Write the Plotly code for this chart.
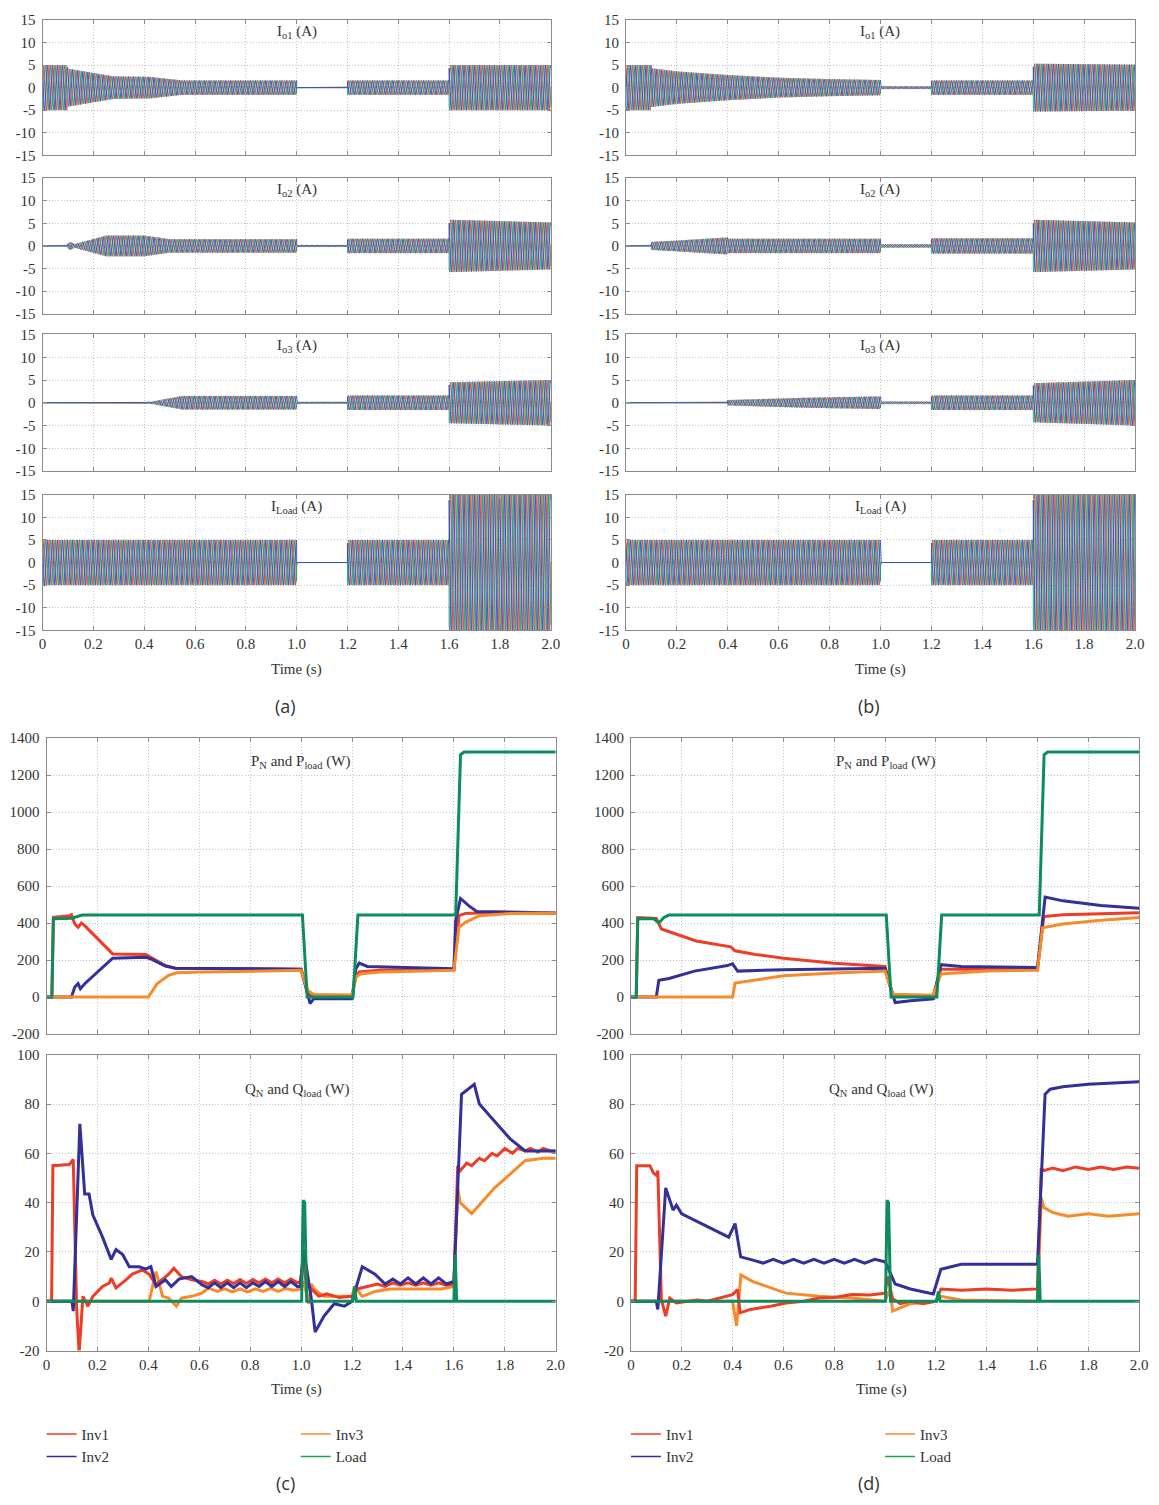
import numpy as np
import plotly.graph_objects as go

W, H = 1159, 1505
SERIF = "Liberation Serif"

# ---------------- tick labels ----------------
x_ticks = [0, 0.2, 0.4, 0.6, 0.8, 1.0, 1.2, 1.4, 1.6, 1.8, 2.0]
x_tick_text = ["0", "0.2", "0.4", "0.6", "0.8", "1.0", "1.2", "1.4", "1.6", "1.8", "2.0"]
cur_y_ticks = [-15, -10, -5, 0, 5, 10, 15]
cur_y_text = ["-15", "-10", "-5", "0", "5", "10", "15"]
p_y_ticks = [-200, 0, 200, 400, 600, 800, 1000, 1200, 1400]
p_y_text = ["-200", "0", "200", "400", "600", "800", "1000", "1200", "1400"]
q_y_ticks = [-20, 0, 20, 40, 60, 80, 100]
q_y_text = ["-20", "0", "20", "40", "60", "80", "100"]

# ---------------- current envelopes (peak amplitude, A) ----------------
a_io1_t = [0, 0.095, 0.1, 0.28, 0.42, 0.55, 1.0, 1.0, 1.2, 1.2, 1.6, 1.6, 2.0]
a_io1_a = [5.0, 5.0, 4.2, 2.5, 2.4, 1.6, 1.6, 0.0, 0.0, 1.6, 1.6, 5.0, 5.0]
a_io2_t = [0, 0.1, 0.1, 0.11, 0.125, 0.25, 0.4, 0.5, 1.0, 1.0, 1.2, 1.2, 1.6, 1.6, 2.0]
a_io2_a = [0.0, 0.0, 0.6, 0.9, 0.4, 2.3, 2.3, 1.5, 1.5, 0.2, 0.2, 1.6, 1.6, 5.8, 5.2]
a_io3_t = [0, 0.4, 0.55, 1.0, 1.0, 1.2, 1.2, 1.6, 1.6, 2.0]
a_io3_a = [0.0, 0.0, 1.5, 1.5, 0.2, 0.2, 1.6, 1.6, 4.5, 5.0]
a_iload_t = [0, 1.0, 1.0, 1.2, 1.2, 1.6, 1.6, 2.0]
a_iload_a = [5.0, 5.0, 0.0, 0.0, 5.0, 5.0, 16.0, 16.0]

b_io1_t = [0, 0.1, 0.1, 0.2, 0.4, 0.6, 0.8, 1.0, 1.0, 1.2, 1.2, 1.6, 1.6, 2.0]
b_io1_a = [5.0, 5.0, 4.3, 3.6, 2.8, 2.2, 1.9, 1.7, 0.35, 0.35, 1.6, 1.6, 5.3, 5.1]
b_io2_t = [0, 0.1, 0.1, 0.2, 0.4, 0.4, 1.0, 1.0, 1.2, 1.2, 1.6, 1.6, 2.0]
b_io2_a = [0.0, 0.0, 0.9, 1.2, 1.9, 1.6, 1.6, 0.4, 0.4, 1.7, 1.7, 5.8, 5.2]
b_io3_t = [0, 0.4, 0.4, 0.7, 1.0, 1.0, 1.2, 1.2, 1.6, 1.6, 2.0]
b_io3_a = [0.0, 0.0, 0.6, 1.1, 1.4, 0.3, 0.3, 1.6, 1.6, 4.3, 5.0]
b_iload_t = [0, 1.0, 1.0, 1.2, 1.2, 1.6, 1.6, 2.0]
b_iload_a = [5.0, 5.0, 0.0, 0.0, 5.0, 5.0, 16.0, 16.0]

# ---------------- active power (c) ----------------
c_p_inv1_t = [0, 0.021, 0.027, 0.092, 0.098, 0.111, 0.124, 0.137, 0.15, 0.26, 0.39, 0.41, 0.467, 0.506,
              1.0, 1.031, 1.2, 1.215, 1.228, 1.31, 1.6, 1.62, 1.645, 1.697, 2.0]
c_p_inv1_v = [0, 0, 431, 440, 445, 395, 377, 400, 386, 233, 230, 215, 170, 156,
              150, 9, 9, 108, 135, 144, 147, 440, 452, 454, 454]
c_p_inv2_t = [0, 0.098, 0.111, 0.124, 0.133, 0.15, 0.26, 0.39, 0.41, 0.467, 0.506, 1.0, 1.035, 1.05,
              1.2, 1.215, 1.228, 1.26, 1.6, 1.607, 1.626, 1.658, 1.69, 2.0]
c_p_inv2_v = [0, 0, 54, 72, 45, 72, 210, 215, 206, 167, 156, 150, -35, -9,
              -9, 153, 183, 165, 153, 413, 533, 494, 463, 454]
c_p_inv3_t = [0, 0.4, 0.434, 0.48, 0.51, 0.61, 1.0, 1.025, 1.05, 1.2, 1.215, 1.235, 1.31, 1.6, 1.62,
              1.645, 1.7, 1.826, 2.0]
c_p_inv3_v = [0, 0, 72, 117, 131, 135, 144, 36, 14, 9, 108, 126, 135, 144, 377, 404, 440, 452, 454]
c_p_load_t = [0, 0.021, 0.027, 0.1, 0.14, 1.005, 1.024, 1.204, 1.223, 1.607, 1.626, 1.64, 2.0]
c_p_load_v = [0, 0, 423, 426, 443, 443, 0, 0, 443, 443, 1310, 1325, 1325]

# ---------------- reactive power (c) ----------------
c_q_inv1_t = [0, 0.02, 0.025, 0.09, 0.105, 0.118, 0.128, 0.143, 0.163, 0.182, 0.22, 0.247, 0.254, 0.273,
              0.312, 0.337, 0.376, 0.403, 0.43, 0.48, 0.5, 0.53, 0.57, 0.61, 0.635, 0.66, 0.685, 0.71,
              0.735, 0.76, 0.785, 0.81, 0.835, 0.86, 0.885, 0.91, 0.935, 0.96, 0.985, 0.997, 1.008,
              1.02, 1.04, 1.07, 1.1, 1.15, 1.2, 1.22, 1.26, 1.3, 1.33, 1.36, 1.39, 1.42, 1.45, 1.48,
              1.51, 1.54, 1.57, 1.6, 1.615, 1.625, 1.65, 1.67, 1.7, 1.72, 1.75, 1.77, 1.8, 1.83,
              1.85, 1.88, 1.9, 1.93, 1.95, 1.98, 2.0]
c_q_inv1_v = [0, 0, 55, 55.5, 57.5, -2, -21, 2, -2, 2, 6, 7.4, 9.4, 5.4,
              8.7, 11, 12.7, 11, 6.7, 11, 13.4, 10, 8.7, 8, 7, 8.5, 7, 8.5,
              7.2, 8.8, 7.2, 8.8, 7.5, 9, 7.5, 9, 7.5, 9, 7.5, 8, 17,
              7, 5, 2, 3, 1.5, 2, 5, 6, 7, 6, 7.5, 6.5, 7.5, 6.5, 7.5,
              6.5, 7.5, 6.5, 7, 55, 53, 56, 55, 58, 57, 60, 59, 62, 60,
              62, 61, 62, 60.5, 62, 61, 61]
c_q_inv2_t = [0, 0.1, 0.105, 0.131, 0.15, 0.167, 0.182, 0.22, 0.254, 0.273, 0.299, 0.325, 0.364, 0.39,
              0.41, 0.43, 0.467, 0.49, 0.52, 0.57, 0.61, 0.635, 0.66, 0.685, 0.71, 0.735, 0.76, 0.785,
              0.81, 0.835, 0.86, 0.885, 0.91, 0.935, 0.96, 0.985, 0.997,
              1.01, 1.04, 1.055, 1.09, 1.13, 1.17, 1.2, 1.24, 1.29, 1.33, 1.36, 1.39, 1.42, 1.45,
              1.48, 1.51, 1.54, 1.57, 1.6,
              1.63, 1.68, 1.7, 1.75, 1.82, 1.88, 1.95, 2.0]
c_q_inv2_v = [0, 0, -4, 72, 43.5, 43.5, 35, 26, 17, 21, 19, 14, 14, 13,
              14, 6, 8.7, 6, 9, 10, 6.7, 5.5, 7.5, 5.5, 7.5, 5.5, 7.5, 5.5,
              7.5, 6, 8, 6, 8, 6, 8, 6, 6,
              21, 1, -12.5, -6, -1, -2, 0, 14, 11, 7, 9, 7, 9.5, 7,
              9.5, 7, 9.5, 7, 8,
              84, 88, 80, 74, 66, 61, 61, 61]
c_q_inv3_t = [0, 0.403, 0.43, 0.456, 0.48, 0.51, 0.53, 0.57, 0.61, 0.636, 0.67, 0.7, 0.73, 0.76, 0.79,
              0.82, 0.85, 0.88, 0.91, 0.94, 0.97, 1.0, 1.01,
              1.03, 1.04, 1.05, 1.09, 1.13, 1.17, 1.2, 1.21, 1.24, 1.29, 1.35, 1.45, 1.55, 1.6, 1.615,
              1.625, 1.67, 1.76, 1.88, 1.95, 2.0]
c_q_inv3_v = [0, 0, 12, 2, 1.3, -2, 1.3, 2, 3.3, 5.4, 4, 5, 3.8, 5, 3.8,
              5, 4, 5.2, 4, 5.2, 4.5, 5, 8,
              -1, 7, 5, 2, 2, 2, 2, 6, 2, 4, 5, 5, 5, 6, 46,
              40, 35.6, 46, 57, 58, 58]
c_q_load_t = [0, 1.002, 1.008, 1.014, 1.022, 1.203, 1.21, 1.217, 1.6, 1.605, 1.611, 2.0]
c_q_load_v = [0, 0, 41, 40, 0, 0, 6, 0, 0, 19, 0, 0]

# ---------------- active power (d) ----------------
d_p_inv1_t = [0, 0.021, 0.027, 0.1, 0.12, 0.18, 0.257, 0.393, 0.41, 0.49, 0.6, 0.8, 1.0, 1.03,
              1.19, 1.22, 1.6, 1.625, 1.7, 2.0]
d_p_inv1_v = [0, 0, 430, 425, 368, 341, 303, 271, 250, 230, 210, 182, 165, 5,
              10, 150, 150, 435, 445, 455]
d_p_inv2_t = [0, 0.1, 0.11, 0.15, 0.25, 0.38, 0.4, 0.42, 0.6, 0.8, 1.0, 1.04, 1.1, 1.19, 1.22, 1.3,
              1.6, 1.63, 1.7, 1.85, 2.0]
d_p_inv2_v = [0, 0, 90, 100, 140, 170, 180, 140, 148, 152, 155, -30, -20, -10, 175, 165,
              160, 540, 520, 495, 480]
d_p_inv3_t = [0, 0.4, 0.41, 0.5, 0.6, 0.8, 1.0, 1.03, 1.19, 1.22, 1.4, 1.6, 1.62, 1.7, 1.85, 2.0]
d_p_inv3_v = [0, 0, 75, 95, 115, 130, 140, 15, 10, 125, 140, 145, 375, 395, 415, 430]
d_p_load_t = [0, 0.021, 0.027, 0.09, 0.11, 0.13, 0.15, 1.005, 1.024, 1.204, 1.223, 1.607, 1.626, 1.64, 2.0]
d_p_load_v = [0, 0, 423, 423, 400, 430, 443, 443, 0, 0, 443, 443, 1310, 1325, 1325]

# ---------------- reactive power (d) ----------------
d_q_inv1_t = [0, 0.017, 0.023, 0.075, 0.089, 0.102, 0.106, 0.12, 0.137, 0.153, 0.179, 0.22, 0.26, 0.3,
              0.34, 0.38, 0.4, 0.42, 0.43, 0.47, 0.55, 0.61, 0.68, 0.74, 0.8, 0.87, 0.94, 1.0, 1.01,
              1.03, 1.06, 1.1, 1.15, 1.2, 1.22, 1.3, 1.4, 1.5, 1.6, 1.615, 1.625, 1.66, 1.7, 1.75,
              1.8, 1.85, 1.9, 1.95, 2.0]
d_q_inv1_v = [0, 0, 55, 55, 52, 51, 53, 0.7, -6, 1.3, -0.7, 0, 0.5, 0,
              1, 2, 2.7, 4.7, -4.7, -3.3, -2, -0.7, 0, 1.3, 1.5, 2.7, 2.5, 3.3, 10,
              1, -1, 0, -1, 0, 5, 4.5, 5, 4.5, 5, 54, 53, 54, 53, 54.5,
              53.5, 54.5, 53.5, 54.5, 54]
d_q_inv2_t = [0, 0.1, 0.106, 0.137, 0.166, 0.179, 0.2, 0.28, 0.345, 0.385, 0.41, 0.42, 0.432, 0.48,
              0.52, 0.56, 0.6, 0.64, 0.68, 0.72, 0.76, 0.8, 0.84, 0.88, 0.92, 0.96, 1.0, 1.01, 1.04,
              1.1, 1.15, 1.19, 1.22, 1.3, 1.4, 1.5, 1.6, 1.63, 1.65, 1.7, 1.8, 1.9, 2.0]
d_q_inv2_v = [0, 0, -3.3, 46, 37, 39, 35.5, 31.5, 28, 26, 31.5, 26, 18, 16.7,
              15.5, 17, 15.5, 17, 15.5, 17, 15.5, 17, 15.5, 17, 15.5, 17, 16, 14, 7,
              5, 4, 3, 13, 15, 15, 15, 15, 84, 86, 87, 88, 88.5, 89]
d_q_inv3_t = [0, 0.4, 0.416, 0.433, 0.48, 0.61, 0.74, 0.87, 1.0, 1.02, 1.03, 1.1, 1.2, 1.22, 1.3, 1.5,
              1.6, 1.615, 1.625, 1.66, 1.72, 1.8, 1.88, 2.0]
d_q_inv3_v = [0, 0, -10, 10.7, 8, 3.3, 2, 1.3, 0, 5, -4, -1, 0, 2, 0.5, 0,
              0, 42, 38, 36, 34.5, 35.5, 34.5, 35.5]
d_q_load_t = [0, 1.002, 1.008, 1.014, 1.022, 1.203, 1.21, 1.217, 1.6, 1.605, 1.611, 2.0]
d_q_load_v = [0, 0, 41, 40, 0, 0, 4, 0, 0, 19, 0, 0]

# ---------------- styles ----------------
COL_INV1 = "#ec3d27"
COL_INV2 = "#33309a"
COL_INV3 = "#f78b2c"
COL_LOAD = "#0f8c5c"
PHASE_COLORS = ["#f0472f", "#1aa860", "#3c48c8"]
FREQ = 50.0

fig = go.Figure()


def xd(x0, x1):
    return [x0 / W, x1 / W]


def yd(y0, y1):
    return [1 - y1 / H, 1 - y0 / H]


common = dict(showline=True, linecolor="#8a8a8a", linewidth=1, mirror="ticks", ticks="inside",
              ticklen=4, tickcolor="#8a8a8a", showgrid=True, gridcolor="#c4c4c4", griddash="1px,2px",
              gridwidth=1, zeroline=False,
              tickfont=dict(family=SERIF, size=15, color="#333333"))

cur_rows = [(12, 149), (172, 309), (330, 468), (492, 629)]
panels = {}
k = 1
for xr in [(39, 553), (629, 1144)]:
    for yr in cur_rows:
        panels[k] = (xr, yr, "cur")
        k += 1
panels[9] = ((43, 558), (738, 1037), "p")
panels[10] = ((43, 558), (1058, 1357), "q")
panels[11] = ((634, 1148), (738, 1037), "p")
panels[12] = ((634, 1148), (1058, 1357), "q")

bottom_axes = {4, 8, 10, 12}
layout_axes = {}
for i, (xr, yr, kind) in panels.items():
    xa = "xaxis" if i == 1 else f"xaxis{i}"
    ya = "yaxis" if i == 1 else f"yaxis{i}"
    layout_axes[xa] = dict(common, domain=xd(*xr), range=[0, 2], tickvals=x_ticks, ticktext=x_tick_text,
                           showticklabels=(i in bottom_axes), anchor=f"y{'' if i == 1 else i}")
    if kind == "cur":
        yrange, yt, ytt = [-15, 15], cur_y_ticks, cur_y_text
    elif kind == "p":
        yrange, yt, ytt = [-200, 1400], p_y_ticks, p_y_text
    else:
        yrange, yt, ytt = [-20, 100], q_y_ticks, q_y_text
    layout_axes[ya] = dict(common, domain=yd(*yr), range=yrange, tickvals=yt, ticktext=ytt,
                           ticklabelstandoff=3, anchor=f"x{'' if i == 1 else i}")

# ---------------- currents ----------------
t = np.linspace(0, 2, 8001)
cur_sets = [(a_io1_t, a_io1_a), (a_io2_t, a_io2_a), (a_io3_t, a_io3_a), (a_iload_t, a_iload_a),
            (b_io1_t, b_io1_a), (b_io2_t, b_io2_a), (b_io3_t, b_io3_a), (b_iload_t, b_iload_a)]
for i, (et, ea) in enumerate(cur_sets, start=1):
    amp = np.interp(t, et, ea)
    for ph, col in enumerate(PHASE_COLORS):
        y = amp * np.sin(2 * np.pi * FREQ * t - ph * 2 * np.pi / 3)
        fig.add_trace(go.Scatter(x=t, y=np.round(y, 3), mode="lines",
                                 line=dict(color=col, width=0.9), showlegend=False,
                                 hoverinfo="skip",
                                 xaxis=f"x{'' if i == 1 else i}", yaxis=f"y{'' if i == 1 else i}"))

# ---------------- power ----------------
power_sets = [
    (9, [(c_p_inv1_t, c_p_inv1_v, COL_INV1), (c_p_inv2_t, c_p_inv2_v, COL_INV2),
         (c_p_inv3_t, c_p_inv3_v, COL_INV3), (c_p_load_t, c_p_load_v, COL_LOAD)]),
    (10, [(c_q_inv3_t, c_q_inv3_v, COL_INV3), (c_q_inv1_t, c_q_inv1_v, COL_INV1),
          (c_q_inv2_t, c_q_inv2_v, COL_INV2), (c_q_load_t, c_q_load_v, COL_LOAD)]),
    (11, [(d_p_inv1_t, d_p_inv1_v, COL_INV1), (d_p_inv2_t, d_p_inv2_v, COL_INV2),
          (d_p_inv3_t, d_p_inv3_v, COL_INV3), (d_p_load_t, d_p_load_v, COL_LOAD)]),
    (12, [(d_q_inv3_t, d_q_inv3_v, COL_INV3), (d_q_inv1_t, d_q_inv1_v, COL_INV1),
          (d_q_inv2_t, d_q_inv2_v, COL_INV2), (d_q_load_t, d_q_load_v, COL_LOAD)]),
]
for i, series in power_sets:
    for st, sv, col in series:
        fig.add_trace(go.Scatter(x=st, y=sv, mode="lines", line=dict(color=col, width=3),
                                 showlegend=False, hoverinfo="skip",
                                 xaxis=f"x{i}", yaxis=f"y{i}"))

# ---------------- legends (thin samples) ----------------
legend_names = ["Inv1", "Inv2", "Inv3", "Load"]
legend_cols = [COL_INV1, COL_INV2, COL_INV3, "#1aa64e"]
legend_ids = [["legend", "legend", "legend2", "legend2"], ["legend3", "legend3", "legend4", "legend4"]]
for grp in legend_ids:
    for nm, col, lg in zip(legend_names, legend_cols, grp):
        fig.add_trace(go.Scatter(x=[None], y=[None], mode="lines", name=nm,
                                 line=dict(color=col, width=1.5), legend=lg,
                                 xaxis="x9", yaxis="y9"))

leg_common = dict(font=dict(family=SERIF, size=15, color="#333333"), bgcolor="rgba(0,0,0,0)",
                  borderwidth=0, yanchor="top", xanchor="left", tracegroupgap=0,
                  itemwidth=30, orientation="v")
legend_pos = {"legend": 38, "legend2": 295, "legend3": 629, "legend4": 886}
leg_layout = {}
for lg, px in legend_pos.items():
    leg_layout[lg] = dict(leg_common, x=px / W, y=1 - 1425 / H)

# ---------------- annotations ----------------
annots = []


def add_text(txt, px, py, size=15, family=SERIF):
    annots.append(dict(text=txt, x=px / W, y=1 - py / H, xref="paper", yref="paper",
                       showarrow=False, xanchor="center", yanchor="middle",
                       font=dict(family=family, size=size, color="#333333")))


cur_titles = ["I<sub>o1</sub> (A)", "I<sub>o2</sub> (A)", "I<sub>o3</sub> (A)", "I<sub>Load</sub> (A)"]
for cx in [296, 886]:
    for ttl, (y0, y1) in zip(cur_titles, cur_rows):
        add_text(ttl, cx, y0 + 12)
    add_text("Time (s)", cx, 669)
for cx in [300, 891]:
    add_text("P<sub>N</sub> and P<sub>load</sub> (W)", cx, 762)
    add_text("Q<sub>N</sub> and Q<sub>load</sub> (W)", cx - 4, 1094)
    add_text("Time (s)", cx - 4, 1396)
add_text("(a)", 285, 705, 18, "Open Sans")
add_text("(b)", 875, 705, 18, "Open Sans")
add_text("(c)", 285, 1491, 18, "Open Sans")
add_text("(d)", 875, 1491, 18, "Open Sans")

fig.update_layout(width=W, height=H, margin=dict(l=0, r=0, t=0, b=0),
                  font=dict(family=SERIF, size=15, color="#333333"),
                  paper_bgcolor="white", plot_bgcolor="white",
                  annotations=annots, **layout_axes, **leg_layout)

fig.write_html("out.html")
